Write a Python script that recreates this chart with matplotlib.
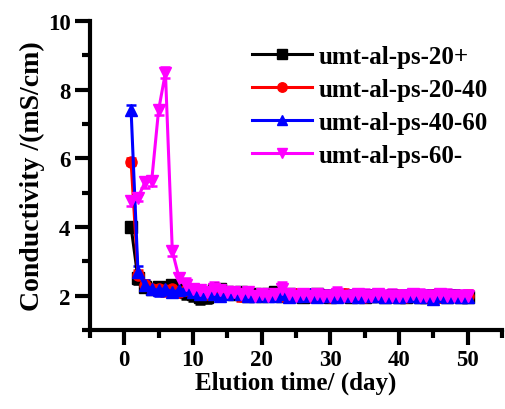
import matplotlib
matplotlib.use("Agg")
import matplotlib.pyplot as plt
from matplotlib.ticker import MultipleLocator

days = list(range(1, 51))

black = [4.0, 2.5, 2.25, 2.2, 2.25, 2.2, 2.3, 2.15, 2.1, 2.05, 1.95, 1.95, 2.15, 2.2, 2.1, 2.05, 2.1, 2.0, 2.05, 2.0,
         2.05, 2.1, 2.0, 2.05, 2.0, 1.95, 2.0, 2.05, 2.0, 1.95, 2.0, 2.0, 1.95, 2.0, 1.95, 2.0, 2.0, 1.95, 2.0, 1.95,
         1.95, 2.0, 1.95, 1.95, 2.0, 2.0, 1.95, 2.0, 1.95, 1.95]
black_err = [0.1, 0.15, 0.15, 0.15, 0.15, 0.15, 0.15, 0.15, 0.2, 0.2, 0.2, 0.18, 0.2, 0.15, 0.15, 0.15, 0.15, 0.15, 0.15, 0.15,
             0.15, 0.15, 0.15, 0.15, 0.15, 0.15, 0.15, 0.15, 0.15, 0.15, 0.15, 0.15, 0.15, 0.15, 0.15, 0.15, 0.15, 0.15, 0.15, 0.15,
             0.15, 0.15, 0.15, 0.15, 0.15, 0.15, 0.15, 0.15, 0.15, 0.15]

red = [5.9, 2.6, 2.3, 2.2, 2.2, 2.15, 2.2, 2.1, 2.15, 2.1, 2.1, 2.05, 2.1, 2.0, 2.05, 2.1, 2.0, 2.05, 2.0, 2.05,
       2.0, 2.05, 2.0, 1.95, 2.05, 2.0, 2.05, 2.0, 2.0, 1.95, 2.0, 2.05, 2.0, 2.0, 1.95, 2.0, 2.0, 1.95, 2.0, 2.0,
       1.95, 2.0, 2.0, 1.95, 2.0, 1.95, 2.0, 2.0, 1.95, 2.0]
red_err = [0.1, 0.15, 0.15, 0.15, 0.15, 0.15, 0.15, 0.15, 0.15, 0.15, 0.15, 0.15, 0.15, 0.15, 0.15, 0.15, 0.15, 0.15, 0.15, 0.15,
           0.15, 0.15, 0.15, 0.15, 0.15, 0.15, 0.15, 0.15, 0.15, 0.15, 0.15, 0.15, 0.15, 0.15, 0.15, 0.15, 0.15, 0.15, 0.15, 0.15,
           0.15, 0.15, 0.15, 0.15, 0.15, 0.15, 0.15, 0.15, 0.15, 0.15]

blue = [7.4, 2.7, 2.3, 2.2, 2.15, 2.2, 2.1, 2.15, 2.2, 2.1, 2.05, 2.1, 2.05, 2.0, 2.05, 2.1, 2.05, 2.0, 2.0, 2.05,
        2.0, 2.0, 2.05, 1.95, 2.0, 2.0, 2.05, 1.95, 2.0, 2.0, 1.95, 2.0, 2.0, 1.95, 2.0, 2.0, 2.0, 1.95, 2.0, 1.95,
        2.0, 2.0, 1.95, 2.0, 1.9, 2.0, 1.95, 2.0, 1.95, 1.95]
blue_err = [0.15, 0.15, 0.15, 0.15, 0.15, 0.15, 0.15, 0.15, 0.15, 0.15, 0.15, 0.15, 0.15, 0.15, 0.15, 0.15, 0.15, 0.15, 0.15, 0.15,
            0.15, 0.15, 0.15, 0.15, 0.15, 0.15, 0.15, 0.15, 0.15, 0.15, 0.15, 0.15, 0.15, 0.15, 0.15, 0.15, 0.15, 0.15, 0.15, 0.15,
            0.15, 0.15, 0.15, 0.15, 0.15, 0.15, 0.15, 0.15, 0.15, 0.15]

magenta = [4.75, 4.85, 5.3, 5.35, 7.4, 8.5, 3.3, 2.5, 2.3, 2.2, 2.15, 2.1, 2.2, 2.15, 2.1, 2.1, 2.05, 2.1, 2.0, 2.05,
           2.0, 2.05, 2.2, 2.05, 2.0, 2.05, 2.0, 2.05, 2.0, 2.0, 2.05, 2.0, 2.0, 2.05, 2.0, 2.0, 2.05, 2.0, 2.0, 2.0,
           2.0, 2.05, 2.0, 2.0, 2.0, 2.05, 2.0, 2.0, 2.0, 2.0]
magenta_err = [0.15, 0.1, 0.15, 0.15, 0.15, 0.15, 0.15, 0.15, 0.2, 0.15, 0.15, 0.15, 0.2, 0.15, 0.15, 0.15, 0.15, 0.15, 0.15, 0.15,
               0.15, 0.15, 0.2, 0.15, 0.15, 0.15, 0.2, 0.15, 0.15, 0.15, 0.2, 0.15, 0.15, 0.15, 0.2, 0.15, 0.15, 0.15, 0.2, 0.15,
               0.15, 0.15, 0.2, 0.15, 0.15, 0.15, 0.2, 0.15, 0.15, 0.15]

labels = ["umt-al-ps-20+", "umt-al-ps-20-40", "umt-al-ps-40-60", "umt-al-ps-60-"]
colors = ["black", "red", "blue", "magenta"]
markers = ["s", "o", "^", "v"]
series = [(black, black_err), (red, red_err), (blue, blue_err), (magenta, magenta_err)]

plt.rcParams['font.family'] = ['Liberation Serif', 'DejaVu Serif']
plt.rcParams['font.weight'] = 'bold'

fig = plt.figure(figsize=(5.05, 4.10), dpi=100)
ax = fig.add_axes([0.178, 0.193, 0.816, 0.753])

for (vals, errs), lab, c, m in zip(series, labels, colors, markers):
    ax.errorbar(days, vals, yerr=errs, color=c, marker=m, markersize=8, lw=2.2,
                elinewidth=1.8, capsize=3.5, capthick=1.8, label=lab)

ax.set_xlim(-5, 55)
ax.set_ylim(1, 10)
ax.xaxis.set_major_locator(MultipleLocator(10))
ax.xaxis.set_minor_locator(MultipleLocator(5))
ax.yaxis.set_major_locator(MultipleLocator(2))
ax.yaxis.set_minor_locator(MultipleLocator(1))
ax.spines['top'].set_visible(False)
ax.spines['right'].set_visible(False)
for s in ['left', 'bottom']:
    ax.spines[s].set_linewidth(3)
ax.tick_params(which='major', direction='out', length=11, width=3, labelsize=16.5, pad=3)
ax.tick_params(which='minor', direction='out', length=6, width=3)
for t in ax.get_xticklabels() + ax.get_yticklabels():
    t.set_fontweight('bold')

ax.set_xlabel("Elution time/ (day)", fontsize=18, fontweight='bold', labelpad=0)
ax.set_ylabel("Conductivity /(mS/cm)", fontsize=20, fontweight='bold', labelpad=2)

handles, labs = ax.get_legend_handles_labels()
handles = [h[0] for h in handles]
leg = ax.legend(handles, labs, loc='upper left', bbox_to_anchor=(0.34, 0.995), frameon=False,
                fontsize=18, handlelength=2.4, labelspacing=0.4, handletextpad=0.25, markerscale=0.85)
for t in leg.get_texts():
    t.set_fontweight('bold')

fig.savefig("out.png", dpi=100)
